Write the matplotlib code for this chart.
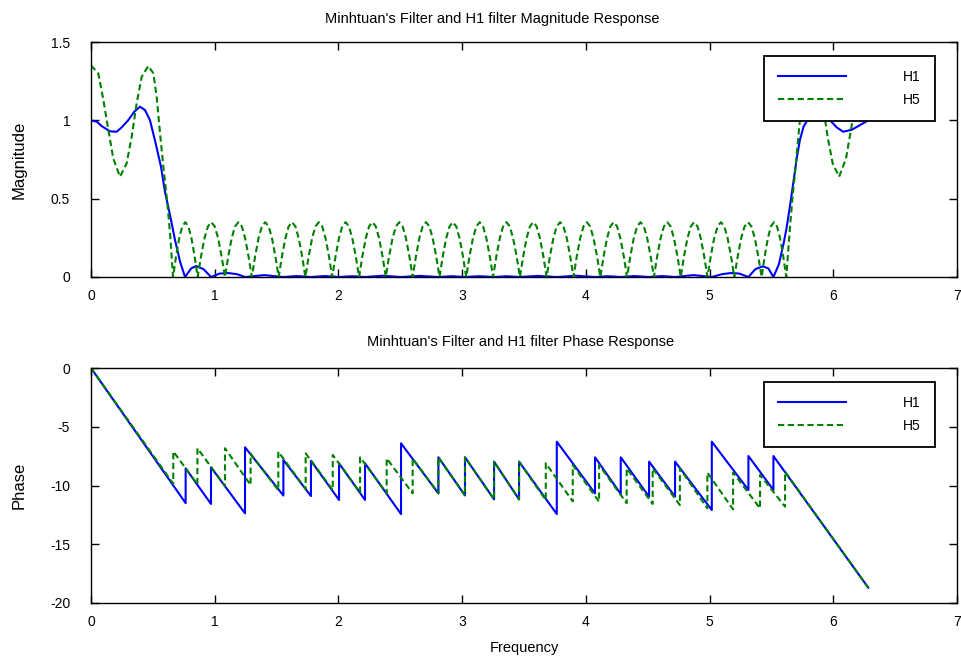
#!/usr/bin/env python3
"""
Magnitude and phase response of two FIR filters (H1 and H5),
drawn as two stacked panels over 0..2*pi rad/sample.
"""

import matplotlib
matplotlib.use("Agg")
import matplotlib.pyplot as plt

# ---- magnitude response, H1 (solid blue) ----
H1_MAG_X = [
    0.000, 0.050, 0.086, 0.154, 0.207, 0.248, 0.300, 0.350, 0.396, 0.437,
    0.477, 0.517, 0.566, 0.598, 0.647, 0.679, 0.720, 0.760,
    0.810, 0.850, 0.910, 0.970, 1.040, 1.110, 1.180, 1.245, 1.400, 1.555,
    1.667, 1.778, 1.892, 2.005, 2.110, 2.215, 2.360, 2.506, 2.657, 2.808,
    2.915, 3.023, 3.140, 3.258, 3.360, 3.460, 3.612, 3.765, 3.920, 4.074,
    4.178, 4.282, 4.396, 4.511, 4.616, 4.721, 4.870, 5.018, 5.100, 5.170,
    5.240, 5.314, 5.370, 5.430, 5.475, 5.516,
    5.560, 5.600, 5.624, 5.655, 5.680, 5.705, 5.730, 5.760, 5.790, 5.820,
    5.870, 5.920, 5.974, 6.028, 6.080, 6.150, 6.217, 6.283,
]
H1_MAG_Y = [
    1.000, 0.990, 0.963, 0.930, 0.927, 0.955, 1.000, 1.055, 1.087, 1.065,
    1.000, 0.872, 0.704, 0.544, 0.364, 0.236, 0.098, 0.000,
    0.055, 0.070, 0.050, 0.000, 0.022, 0.025, 0.018, 0.000, 0.012, 0.000,
    0.006, 0.000, 0.006, 0.000, 0.005, 0.000, 0.008, 0.000, 0.007, 0.000,
    0.005, 0.000, 0.005, 0.000, 0.005, 0.000, 0.007, 0.000, 0.008, 0.000,
    0.005, 0.000, 0.006, 0.000, 0.006, 0.000, 0.012, 0.000, 0.018, 0.025,
    0.022, 0.000, 0.050, 0.068, 0.055, 0.000,
    0.080, 0.220, 0.320, 0.480, 0.620, 0.760, 0.874, 0.960, 1.000, 1.040,
    1.085, 1.060, 1.000, 0.955, 0.927, 0.940, 0.970, 1.000,
]

# ---- magnitude response, H5 (dashed green) ----
# passband ripple, then the 23 stopband lobes one row each, then the
# mirrored passband near 2*pi
H5_MAG_X = [
    0.000, 0.059, 0.100, 0.140, 0.180, 0.234, 0.288, 0.329, 0.369, 0.410,
    0.463, 0.504, 0.531, 0.558, 0.585, 0.612, 0.639, 0.663,
    0.688, 0.713, 0.738, 0.762, 0.787, 0.812, 0.837, 0.862,
    0.890, 0.917, 0.945, 0.972, 1.000, 1.028, 1.055, 1.083,
    1.110, 1.137, 1.164, 1.192, 1.219, 1.246, 1.273, 1.300,
    1.327, 1.354, 1.381, 1.408, 1.436, 1.463, 1.490, 1.517,
    1.544, 1.571, 1.598, 1.625, 1.652, 1.679, 1.706, 1.733,
    1.760, 1.787, 1.814, 1.842, 1.869, 1.896, 1.923, 1.950,
    1.977, 2.004, 2.031, 2.058, 2.085, 2.112, 2.140, 2.167,
    2.194, 2.221, 2.248, 2.275, 2.302, 2.329, 2.356, 2.383,
    2.410, 2.437, 2.465, 2.492, 2.519, 2.546, 2.573, 2.600,
    2.627, 2.654, 2.681, 2.708, 2.735, 2.762, 2.790, 2.817,
    2.844, 2.871, 2.898, 2.925, 2.952, 2.979, 3.006, 3.033,
    3.060, 3.087, 3.115, 3.142, 3.169, 3.196, 3.223, 3.250,
    3.277, 3.304, 3.331, 3.358, 3.385, 3.412, 3.440, 3.467,
    3.494, 3.521, 3.548, 3.575, 3.602, 3.629, 3.656, 3.683,
    3.710, 3.737, 3.764, 3.792, 3.819, 3.846, 3.873, 3.900,
    3.927, 3.954, 3.981, 4.008, 4.035, 4.062, 4.090, 4.117,
    4.144, 4.171, 4.198, 4.225, 4.252, 4.279, 4.306, 4.333,
    4.360, 4.387, 4.415, 4.442, 4.469, 4.496, 4.523, 4.550,
    4.577, 4.604, 4.631, 4.658, 4.685, 4.712, 4.740, 4.767,
    4.794, 4.821, 4.848, 4.875, 4.902, 4.929, 4.956, 4.983,
    5.010, 5.037, 5.065, 5.092, 5.119, 5.146, 5.173, 5.200,
    5.228, 5.255, 5.283, 5.311, 5.338, 5.366, 5.393, 5.421,
    5.446, 5.471, 5.496, 5.521, 5.545, 5.570, 5.595, 5.620,
    5.650, 5.671, 5.690, 5.725, 5.752, 5.779, 5.820, 5.873, 5.914, 5.954,
    5.995, 6.047, 6.103, 6.143, 6.183, 6.224, 6.283,
]
H5_MAG_Y = [
    1.350, 1.300, 1.130, 0.940, 0.757, 0.640, 0.725, 0.895, 1.108, 1.278,
    1.347, 1.300, 1.150, 0.917, 0.704, 0.512, 0.279, 0.000,
    0.134, 0.247, 0.323, 0.350, 0.323, 0.247, 0.134, 0.000,
    0.134, 0.247, 0.323, 0.350, 0.323, 0.247, 0.134, 0.000,
    0.134, 0.247, 0.323, 0.350, 0.323, 0.247, 0.134, 0.000,
    0.134, 0.247, 0.323, 0.350, 0.323, 0.247, 0.134, 0.000,
    0.134, 0.247, 0.323, 0.350, 0.323, 0.247, 0.134, 0.000,
    0.134, 0.247, 0.323, 0.350, 0.323, 0.247, 0.134, 0.000,
    0.134, 0.247, 0.323, 0.350, 0.323, 0.247, 0.134, 0.000,
    0.134, 0.247, 0.323, 0.350, 0.323, 0.247, 0.134, 0.000,
    0.134, 0.247, 0.323, 0.350, 0.323, 0.247, 0.134, 0.000,
    0.134, 0.247, 0.323, 0.350, 0.323, 0.247, 0.134, 0.000,
    0.134, 0.247, 0.323, 0.350, 0.323, 0.247, 0.134, 0.000,
    0.134, 0.247, 0.323, 0.350, 0.323, 0.247, 0.134, 0.000,
    0.134, 0.247, 0.323, 0.350, 0.323, 0.247, 0.134, 0.000,
    0.134, 0.247, 0.323, 0.350, 0.323, 0.247, 0.134, 0.000,
    0.134, 0.247, 0.323, 0.350, 0.323, 0.247, 0.134, 0.000,
    0.134, 0.247, 0.323, 0.350, 0.323, 0.247, 0.134, 0.000,
    0.134, 0.247, 0.323, 0.350, 0.323, 0.247, 0.134, 0.000,
    0.134, 0.247, 0.323, 0.350, 0.323, 0.247, 0.134, 0.000,
    0.134, 0.247, 0.323, 0.350, 0.323, 0.247, 0.134, 0.000,
    0.134, 0.247, 0.323, 0.350, 0.323, 0.247, 0.134, 0.000,
    0.134, 0.247, 0.323, 0.350, 0.323, 0.247, 0.134, 0.000,
    0.134, 0.247, 0.323, 0.350, 0.323, 0.247, 0.134, 0.000,
    0.134, 0.247, 0.323, 0.350, 0.323, 0.247, 0.134, 0.000,
    0.320, 0.512, 0.660, 0.960, 1.150, 1.300, 1.347, 1.278, 1.108, 0.895,
    0.725, 0.640, 0.757, 0.940, 1.130, 1.300, 1.350,
]

# ---- unwrapped phase, vertices of the sawtooth (x repeats at each jump) ----
H1_PH_X = [
    0.000,
    0.765, 0.765, 0.970, 0.970, 1.245, 1.245, 1.555, 1.555, 1.778, 1.778,
    2.005, 2.005, 2.215, 2.215, 2.506, 2.506, 2.808, 2.808, 3.023, 3.023,
    3.258, 3.258, 3.460, 3.460, 3.765, 3.765, 4.074, 4.074, 4.282, 4.282,
    4.511, 4.511, 4.721, 4.721, 5.018, 5.018, 5.314, 5.314, 5.516, 5.516,
    6.283,
]
H1_PH_Y = [
    0.00,
    -11.50, -8.54, -11.57, -8.45, -12.37, -6.75, -10.85, -7.83, -10.90, -7.90,
    -11.23, -8.11, -11.23, -8.11, -12.43, -6.41, -10.67, -7.60, -10.85, -7.60,
    -11.18, -7.97, -11.18, -7.97, -12.43, -6.27, -10.67, -7.60, -10.72, -7.60,
    -10.95, -7.97, -10.95, -7.97, -12.09, -6.27, -10.38, -7.49, -10.38, -7.49,
    -18.70,
]
H5_PH_X = [
    0.000,
    0.665, 0.665, 0.860, 0.860, 1.083, 1.083, 1.290, 1.290, 1.514, 1.514,
    1.735, 1.735, 1.954, 1.954, 2.175, 2.175, 2.390, 2.390, 2.600, 2.600,
    2.808, 2.808, 3.023, 3.023, 3.258, 3.258, 3.460, 3.460, 3.676, 3.676,
    3.894, 3.894, 4.107, 4.107, 4.330, 4.330, 4.540, 4.540, 4.760, 4.760,
    4.982, 4.982, 5.190, 5.190, 5.408, 5.408, 5.610, 5.610,
    6.283,
]
H5_PH_Y = [
    0.00,
    -9.85, -7.10, -9.90, -6.83, -10.04, -6.83, -9.96, -7.30, -10.40, -7.12,
    -10.30, -7.26, -10.38, -7.40, -10.60, -7.60, -10.67, -7.69, -10.67, -7.70,
    -10.67, -7.60, -10.85, -7.60, -11.18, -7.97, -11.18, -7.97, -11.23, -8.11,
    -11.35, -8.26, -11.38, -8.26, -11.50, -8.54, -11.57, -8.54, -11.66, -8.54,
    -11.94, -8.90, -12.03, -8.90, -11.94, -9.10, -11.80, -8.82,
    -18.70,
]

LABELS = ["H1", "H5"]
BLUE = "#0000ff"
GREEN = "#008000"
FONT = ["Liberation Sans", "DejaVu Sans"]

plt.rcParams["font.family"] = FONT
plt.rcParams["axes.unicode_minus"] = False


def style_axes(ax, yticks):
    ax.set_xlim(0, 7)
    ax.set_xticks(range(8))
    ax.set_yticks(yticks)
    ax.tick_params(direction="in", length=6, width=1.0, top=True, right=True,
                   labelsize=10, colors="black")
    ax.tick_params(axis="x", pad=9)
    ax.tick_params(axis="y", pad=15)
    for sp in ax.spines.values():
        sp.set_linewidth(1.0)
    # y label sits near the left edge of the figure
    ax.yaxis.set_label_coords((27 - 91) / 866, 0.5)


def add_legend(ax, top_px):
    leg = ax.legend(LABELS, loc="upper right",
                    bbox_to_anchor=(935 / 962, 1 - top_px / 660),
                    bbox_transform=ax.figure.transFigure, borderaxespad=0,
                    fontsize=10, handlelength=4.9, handletextpad=4.1,
                    borderpad=1.0, labelspacing=0.65, fancybox=False,
                    framealpha=1.0, edgecolor="black")
    leg.get_frame().set_linewidth(1.3)
    leg.set_zorder(5)


def main():
    fig = plt.figure(figsize=(9.62, 6.60), dpi=100)
    fig.patch.set_facecolor("white")

    ax1 = fig.add_axes([91 / 962, 1 - 277 / 660, 866 / 962, 235 / 660])
    ax2 = fig.add_axes([91 / 962, 1 - 603 / 660, 866 / 962, 235 / 660])

    # magnitude
    ax1.plot(H1_MAG_X, H1_MAG_Y, color=BLUE, lw=1.5)
    ax1.plot(H5_MAG_X, H5_MAG_Y, color=GREEN, lw=1.5, dashes=(3.0, 1.7))
    ax1.set_ylim(0, 1.5)
    style_axes(ax1, [0, 0.5, 1, 1.5])
    ax1.set_yticklabels(["0", "0.5", "1", "1.5"])
    ax1.set_ylabel("Magnitude", fontsize=12)
    ax1.set_title("Minhtuan's Filter and H1 filter Magnitude Response",
                  fontsize=10.5, pad=14, x=(492 - 91) / 866)
    add_legend(ax1, 56)

    # phase
    ax2.plot(H1_PH_X, H1_PH_Y, color=BLUE, lw=1.5)
    ax2.plot(H5_PH_X, H5_PH_Y, color=GREEN, lw=1.5, dashes=(3.0, 1.7))
    ax2.set_ylim(-20, 0)
    style_axes(ax2, [-20, -15, -10, -5, 0])
    ax2.set_ylabel("Phase", fontsize=12)
    ax2.set_xlabel("Frequency", fontsize=10.5, labelpad=8)
    ax2.set_title("Minhtuan's Filter and H1 filter Phase Response",
                  fontsize=10.5, pad=16, x=(521 - 91) / 866)
    add_legend(ax2, 382)

    fig.savefig("out.png", dpi=100, facecolor="white")
    plt.close(fig)


if __name__ == "__main__":
    main()
